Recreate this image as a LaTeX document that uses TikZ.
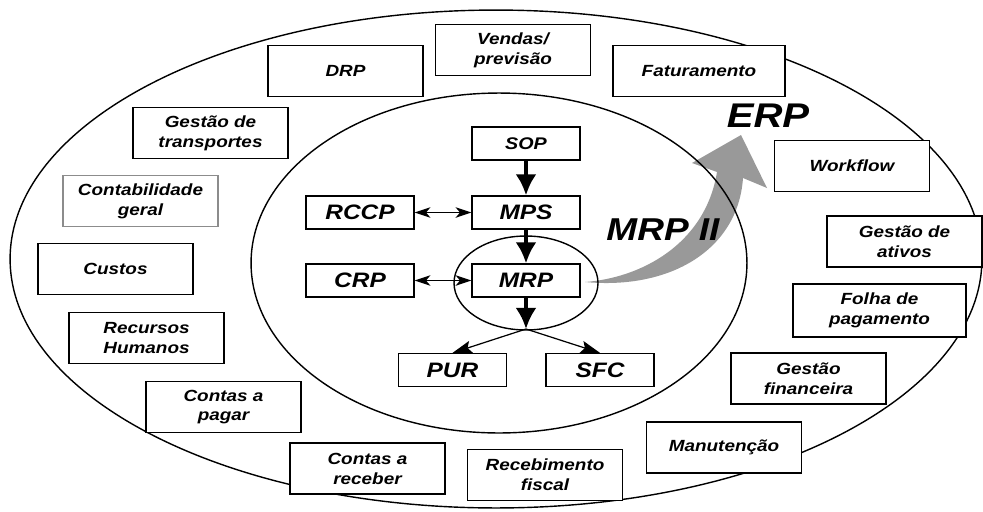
\documentclass[tikz,border=0pt]{standalone}
\usepackage{fontspec}
\setsansfont{Liberation Sans}[FakeStretch=1.17]
\usepackage{tikz}
\usetikzlibrary{arrows.meta}

\tikzset{
  outbox/.style={draw, fill=white, line width=0.7pt, minimum width=3.1cm, minimum height=1.02cm,
    inner sep=1pt, align=center, font=\sffamily\bfseries\itshape\fontsize{9.2}{11.3}\selectfont},
  inbox/.style={draw, fill=white, line width=0.7pt, minimum width=2.16cm, minimum height=0.66cm,
    inner sep=1pt, font=\sffamily\bfseries\itshape\fontsize{11.9}{13}\selectfont},
  flow/.style={line width=2.6pt, -{Latex[length=12pt,width=12pt]}},
  split/.style={line width=0.7pt, -{Stealth[length=11pt,width=7pt,inset=2pt]}},
  link/.style={line width=0.7pt, {Stealth[length=9pt,width=6pt,inset=2.5pt]}-{Stealth[length=9pt,width=6pt,inset=2.5pt]}},
}

\begin{document}
\begin{tikzpicture}[x=0.02cm, y=-0.02cm]
\useasboundingbox (0,0) rectangle (983,511);

% gray arrow MRP -> ERP
\fill[black!40] (585,282) .. controls (640,278) and (705,245) .. (717,172) -- (692,163) -- (741,135)
  -- (767,188) -- (743,178) .. controls (738,250) and (670,290) .. (585,282);

% ERP, MRP II, MRP
\draw[line width=0.8pt] (496,259) ellipse [x radius=9.72cm, y radius=4.98cm];
\draw[line width=0.8pt] (499,263) ellipse [x radius=4.96cm, y radius=3.4cm];
\draw[line width=0.8pt] (526,283) ellipse [x radius=1.44cm, y radius=0.94cm];

\node[font=\sffamily\bfseries\itshape\fontsize{18}{18}\selectfont] (mrpii) at (663,230) {MRP II};
\node[font=\sffamily\bfseries\itshape\fontsize{19.5}{20}\selectfont] (erp) at (768,116) {ERP};

% outer modules
\node[outbox] (drp) at (345.5,71) {DRP};
\node[outbox] (vendas) at (513,50) {Vendas/\\previsão};
\node[outbox, minimum width=3.44cm] (fat) at (699,71) {Faturamento};
\node[outbox] (transp) at (210.5,133) {Gestão de\\transportes};
\node[outbox, draw=black!45] (contab) at (140.5,201) {Contabilidade\\geral};
\node[outbox] (custos) at (115.5,269) {Custos};
\node[outbox] (rh) at (146.5,338) {Recursos\\Humanos};
\node[outbox] (pagar) at (223.5,407) {Contas a\\pagar};
\node[outbox] (receber) at (367.5,468.5) {Contas a\\receber};
\node[outbox] (fiscal) at (545,475) {Recebimento\\fiscal};
\node[outbox] (manut) at (724,447.5) {Manutenção};
\node[outbox] (fin) at (808.5,378.5) {Gestão\\financeira};
\node[outbox, minimum width=3.46cm, minimum height=1.06cm] (folha) at (879.5,310.5) {Folha de\\pagamento};
\node[outbox] (ativos) at (904.5,241.5) {Gestão de\\ativos};
\node[outbox] (wf) at (852,166) {Workflow};

% MRP II core
\node[inbox, font=\sffamily\bfseries\itshape\fontsize{9.6}{11}\selectfont] (sop) at (526,143.5) {SOP};
\node[inbox] (rccp) at (360,212.5) {RCCP};
\node[inbox] (mps) at (526,212.5) {MPS};
\node[inbox] (crp) at (360,280.5) {CRP};
\node[inbox] (mrp) at (526,280.5) {MRP};
\node[inbox] (pur) at (452.5,370) {PUR};
\node[inbox] (sfc) at (600,370) {SFC};
\coordinate (fork) at (526,329);

\draw[flow] (sop) -- (mps);
\draw[flow] (mps) -- (mrp);
\draw[flow] (mrp) -- (fork);
\draw[split] (fork) -- (pur.north);
\draw[split] (fork) -- (sfc.north);
\draw[link] (rccp) -- (mps);
\draw[link] (crp) -- (mrp);
\end{tikzpicture}
\end{document}
